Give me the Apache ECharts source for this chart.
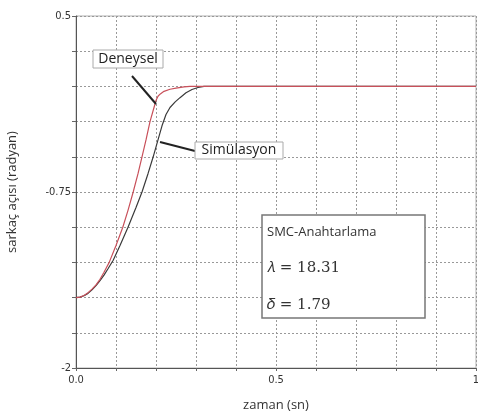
<!DOCTYPE html>
<html>
<head>
<meta charset="utf-8">
<script src="https://cdn.jsdelivr.net/npm/echarts@6/dist/echarts.min.js"></script>
<style>
  html, body { margin: 0; padding: 0; background: #fff; }
  #chart { width: 478px; height: 417px; }
</style>
</head>
<body>
<div id="chart"></div>
<script>
// deneysel (kırmızı) ve simülasyon (siyah) eğrileri
const timeDeneysel = [0, 0.01, 0.02, 0.03, 0.04, 0.05, 0.06, 0.07, 0.083, 0.1, 0.117, 0.13, 0.143, 0.155, 0.165, 0.175, 0.185, 0.195, 0.2, 0.205, 0.21, 0.22, 0.235, 0.25, 0.27, 0.285, 0.3, 0.4, 0.5, 0.6, 0.7, 0.8, 0.9, 1.0];
const valDeneysel = [-1.5, -1.497, -1.485, -1.465, -1.44, -1.41, -1.37, -1.32, -1.25, -1.13, -1.0, -0.88, -0.75, -0.62, -0.5, -0.38, -0.25, -0.15, -0.1, -0.07, -0.055, -0.035, -0.02, -0.012, -0.004, 0, 0, 0, 0, 0, 0, 0, 0, 0];
const timeSim = [0, 0.01, 0.02, 0.03, 0.04, 0.05, 0.06, 0.07, 0.08, 0.093, 0.11, 0.13, 0.15, 0.165, 0.18, 0.193, 0.205, 0.215, 0.225, 0.235, 0.248, 0.26, 0.275, 0.29, 0.305, 0.32, 0.4, 0.5, 0.6, 0.7, 0.8, 0.9, 1.0];
const valSim = [-1.5, -1.497, -1.487, -1.47, -1.445, -1.415, -1.38, -1.34, -1.295, -1.235, -1.13, -1.0, -0.86, -0.75, -0.62, -0.5, -0.38, -0.28, -0.2, -0.15, -0.11, -0.08, -0.045, -0.022, -0.008, 0, 0, 0, 0, 0, 0, 0, 0];

const xTickLabels = { '0': '0.0', '0.5': '0.5', '1': '1' };
const yTickLabels = { '0.5': '0.5', '-0.75': '-0.75', '-2': '-2' };

const chart = echarts.init(document.getElementById('chart'));

const tickFont = '"Liberation Sans Narrow", "DejaVu Sans Condensed", sans-serif';
const textFont = '"Open Sans", "Noto Sans", sans-serif';

chart.setOption({
  animation: false,
  backgroundColor: '#fff',
  grid: {
    left: 76, right: 2, top: 16, bottom: 49,
    containLabel: false,
    outerBoundsMode: 'none',
    show: true, borderColor: '#b0b0b0', borderWidth: 1
  },
  xAxis: {
    type: 'value',
    min: 0, max: 1, interval: 0.1,
    name: 'zaman (sn)',
    nameLocation: 'middle',
    nameGap: 31,
    nameTextStyle: { color: '#333', fontSize: 13, fontFamily: textFont },
    axisLine: { onZero: false, lineStyle: { color: '#555', width: 1 } },
    axisTick: { show: true, inside: false, length: 3, lineStyle: { color: '#666' } },
    axisLabel: {
      color: '#333', fontSize: 11, fontFamily: tickFont, margin: 7,
      formatter: v => xTickLabels[String(Math.round(v * 10) / 10)] || ''
    },
    splitLine: { show: true, lineStyle: { color: '#999', type: [2, 2], width: 1 } }
  },
  yAxis: {
    type: 'value',
    min: -2, max: 0.5, interval: 0.25,
    name: 'sarkaç açısı (radyan)',
    nameLocation: 'middle',
    nameGap: 57,
    nameRotate: 90,
    nameTextStyle: { color: '#333', fontSize: 13, fontFamily: textFont },
    axisLine: { show: true, onZero: false, lineStyle: { color: '#555', width: 1 } },
    axisTick: { show: true, length: 4, lineStyle: { color: '#666' } },
    axisLabel: {
      color: '#333', fontSize: 11, fontFamily: tickFont, margin: 5,
      formatter: v => yTickLabels[String(Math.round(v * 100) / 100)] || ''
    },
    splitLine: { show: true, lineStyle: { color: '#999', type: [2, 2], width: 1 } }
  },
  series: [
    {
      name: 'Simülasyon',
      type: 'line',
      data: timeSim.map((t, i) => [t, valSim[i]]),
      showSymbol: false,
      lineStyle: { color: '#3a3a3a', width: 1.2 },
      z: 3
    },
    {
      name: 'Deneysel',
      type: 'line',
      data: timeDeneysel.map((t, i) => [t, valDeneysel[i]]),
      showSymbol: false,
      lineStyle: { color: '#c8505a', width: 1.2 },
      z: 4
    }
  ],
  graphic: [
    // Deneysel etiketi
    { type: 'line', shape: { x1: 132, y1: 76, x2: 156, y2: 104 }, style: { stroke: '#222', lineWidth: 2 }, z: 10 },
    { type: 'rect', shape: { x: 93, y: 50, width: 70, height: 18 }, style: { fill: '#fff', stroke: '#aaa', lineWidth: 1 }, z: 10 },
    { type: 'text', x: 128, y: 59, style: { text: 'Deneysel', fill: '#222', font: '14px ' + textFont, textAlign: 'center', textVerticalAlign: 'middle' }, z: 11 },
    // Simülasyon etiketi
    { type: 'line', shape: { x1: 160, y1: 142, x2: 195, y2: 151 }, style: { stroke: '#222', lineWidth: 2 }, z: 10 },
    { type: 'rect', shape: { x: 195, y: 142, width: 88, height: 17 }, style: { fill: '#fff', stroke: '#aaa', lineWidth: 1 }, z: 10 },
    { type: 'text', x: 239, y: 150.5, style: { text: 'Simülasyon', fill: '#222', font: '14px ' + textFont, textAlign: 'center', textVerticalAlign: 'middle' }, z: 11 },
    // parametre kutusu
    { type: 'rect', shape: { x: 262, y: 215, width: 163, height: 103 }, style: { fill: '#fff', stroke: '#777', lineWidth: 1.5 }, z: 10 },
    { type: 'text', x: 267, y: 232, style: { text: 'SMC-Anahtarlama', fill: '#333', font: '13px ' + textFont, textVerticalAlign: 'middle' }, z: 11 },
    { type: 'text', x: 267, y: 268, style: { text: '𝜆 = 18.31', fill: '#333', font: '15px "DejaVu Serif", serif', textVerticalAlign: 'middle' }, z: 11 },
    { type: 'text', x: 267, y: 305, style: { text: '𝛿 = 1.79', fill: '#333', font: '15px "DejaVu Serif", serif', textVerticalAlign: 'middle' }, z: 11 }
  ]
});
</script>
</body>
</html>
